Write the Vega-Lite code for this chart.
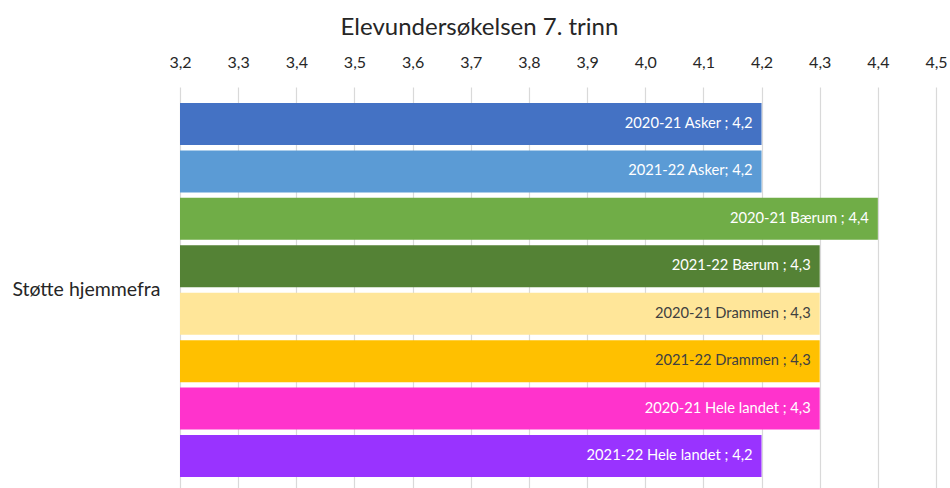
{
  "$schema": "https://vega.github.io/schema/vega-lite/v6.json",
  "autosize": "none",
  "padding": {"left": 180, "top": 87, "right": 14, "bottom": 0},
  "width": 756,
  "height": 406,
  "background": "white",
  "title": {"text": "Elevundersøkelsen 7. trinn", "anchor": "middle", "frame": "bounds", "fontSize": 24, "font": "Lato", "fontWeight": "normal", "color": "#262626", "offset": 14},
  "data": {"values": [
    {"category": "Støtte hjemmefra", "series": "2020-21 Asker", "value": 4.2, "label": "2020-21 Asker ; 4,2"},
    {"category": "Støtte hjemmefra", "series": "2021-22 Asker", "value": 4.2, "label": "2021-22 Asker; 4,2"},
    {"category": "Støtte hjemmefra", "series": "2020-21 Bærum", "value": 4.4, "label": "2020-21 Bærum ; 4,4"},
    {"category": "Støtte hjemmefra", "series": "2021-22 Bærum", "value": 4.3, "label": "2021-22 Bærum ; 4,3"},
    {"category": "Støtte hjemmefra", "series": "2020-21 Drammen", "value": 4.3, "label": "2020-21 Drammen ; 4,3"},
    {"category": "Støtte hjemmefra", "series": "2021-22 Drammen", "value": 4.3, "label": "2021-22 Drammen ; 4,3"},
    {"category": "Støtte hjemmefra", "series": "2020-21 Hele landet", "value": 4.3, "label": "2020-21 Hele landet ; 4,3"},
    {"category": "Støtte hjemmefra", "series": "2021-22 Hele landet", "value": 4.2, "label": "2021-22 Hele landet ; 4,2"}
  ]},
  "encoding": {
    "y": {"field": "category", "type": "nominal", "scale": {"paddingInner": 0, "paddingOuter": 0},
      "axis": {"title": null, "domain": false, "ticks": false, "labelFontSize": 19.5, "labelFont": "Lato", "labelColor": "#262626", "labelPadding": 20, "labelLimit": 300}},
    "yOffset": {"field": "series", "type": "nominal", "sort": null, "scale": {"paddingInner": 0.114, "paddingOuter": 0.337}}
  },
  "layer": [
    {
      "mark": {"type": "bar"},
      "encoding": {
        "x": {"field": "value", "type": "quantitative", "scale": {"domain": [3.2, 4.5], "zero": false, "nice": false},
          "axis": {"orient": "top", "title": null, "domain": false, "ticks": false,
            "values": [3.2, 3.3, 3.4, 3.5, 3.6, 3.7, 3.8, 3.9, 4.0, 4.1, 4.2, 4.3, 4.4, 4.5],
            "labelExpr": "replace(format(datum.value, '.1f'), '.', ',')",
            "labelFlush": false, "labelOverlap": false,
            "labelFontSize": 16, "labelFont": "Lato", "labelColor": "#262626", "labelPadding": 17,
            "grid": true, "gridColor": "#D9D9D9", "gridWidth": 1.2}},
        "x2": {"datum": 3.2},
        "color": {"field": "series", "type": "nominal", "sort": null, "legend": null,
          "scale": {"domain": ["2020-21 Asker", "2021-22 Asker", "2020-21 Bærum", "2021-22 Bærum", "2020-21 Drammen", "2021-22 Drammen", "2020-21 Hele landet", "2021-22 Hele landet"],
            "range": ["#4472C4", "#5B9BD5", "#70AD47", "#548235", "#FFE699", "#FFC000", "#FF33CC", "#9933FF"]}}
      }
    },
    {
      "mark": {"type": "text", "align": "right", "baseline": "middle", "dx": -9, "fontSize": 14.7, "font": "Lato"},
      "encoding": {
        "x": {"field": "value", "type": "quantitative"},
        "text": {"field": "label"},
        "color": {"condition": {"test": "indexof(datum.series, 'Drammen') >= 0", "value": "#404040"}, "value": "#FFFFFF"}
      }
    }
  ],
  "config": {"view": {"stroke": null}}
}
